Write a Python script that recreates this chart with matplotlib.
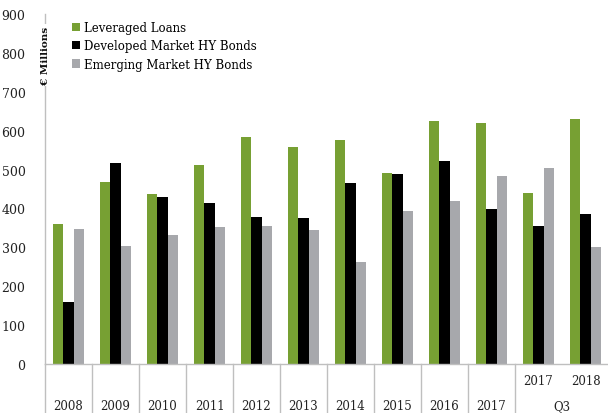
import matplotlib
matplotlib.use("Agg")
import matplotlib.pyplot as plt
import numpy as np
from matplotlib.lines import Line2D

# categories (bottom row labels), Q3 sub-labels
years = ["2008", "2009", "2010", "2011", "2012", "2013", "2014", "2015", "2016", "2017", "2017", "2018"]
series_names = ["Leveraged Loans", "Developed Market HY Bonds", "Emerging Market HY Bonds"]
leveraged_loans = [360, 467, 436, 513, 585, 558, 576, 491, 626, 619, 441, 631]
developed_hy = [159, 516, 429, 414, 377, 375, 465, 489, 522, 399, 355, 387]
emerging_hy = [347, 303, 333, 352, 355, 344, 263, 393, 419, 484, 503, 300]
colors = ["#77a033", "#000000", "#a7a8ac"]

plt.rcParams["font.family"] = ["DejaVu Serif"]

fig = plt.figure(figsize=(6.08, 4.14), dpi=100)
W, H = 608, 414
ax = fig.add_axes([45 / W, (H - 365) / H, (609 - 45) / W, (365 - 15) / H])

x = np.arange(len(years))
width = 0.215
for i, (vals, name, c) in enumerate(zip([leveraged_loans, developed_hy, emerging_hy], series_names, colors)):
    ax.bar(x + (i - 1) * width, vals, width, color=c, label=name, linewidth=0)

ax.set_xlim(-0.5, len(years) - 0.5)
ax.set_ylim(0, 900)
ax.set_yticks(range(0, 901, 100))
ax.tick_params(axis="y", length=0, pad=14, labelsize=9, colors="#222222")
ax.tick_params(axis="x", length=0, labelbottom=False)
for s in ["top", "right"]:
    ax.spines[s].set_visible(False)
for s in ["left", "bottom"]:
    ax.spines[s].set_color("#bfbfbf")
    ax.spines[s].set_linewidth(1.0)

ax.text(-0.5, 795, "€ Millions", rotation=90, ha="center", va="center", fontsize=7.5,
        fontweight="bold", color="#111111",
        bbox=dict(facecolor="white", edgecolor="none", pad=1.5))

# two-level category axis
trans = ax.get_xaxis_transform()
y_row1 = -(382 - 365) / 350
y_row2 = -(407 - 365) / 350
y_bottom = -(414 - 365) / 350
for b in np.arange(-0.5, 10.0, 1.0):
    ax.add_line(Line2D([b, b], [0, y_bottom], transform=trans, color="#bfbfbf",
                       linewidth=1.0, clip_on=False))
for xi in range(10):
    ax.text(xi, y_row2, years[xi], transform=trans, ha="center", va="center",
            fontsize=8.5, color="#222222")
for xi in range(10, 12):
    ax.text(xi, y_row1, years[xi], transform=trans, ha="center", va="center",
            fontsize=8.5, color="#222222")
ax.text(10.5, y_row2, "Q3", transform=trans, ha="center", va="center",
        fontsize=8.5, color="#222222")

ax.legend(loc="upper left", bbox_to_anchor=(0.035, 1.0), frameon=False, fontsize=8.5,
          handlelength=0.7, handleheight=0.7, handletextpad=0.3, labelspacing=0.45,
          borderaxespad=0.2)

fig.savefig("out.png", dpi=100)
